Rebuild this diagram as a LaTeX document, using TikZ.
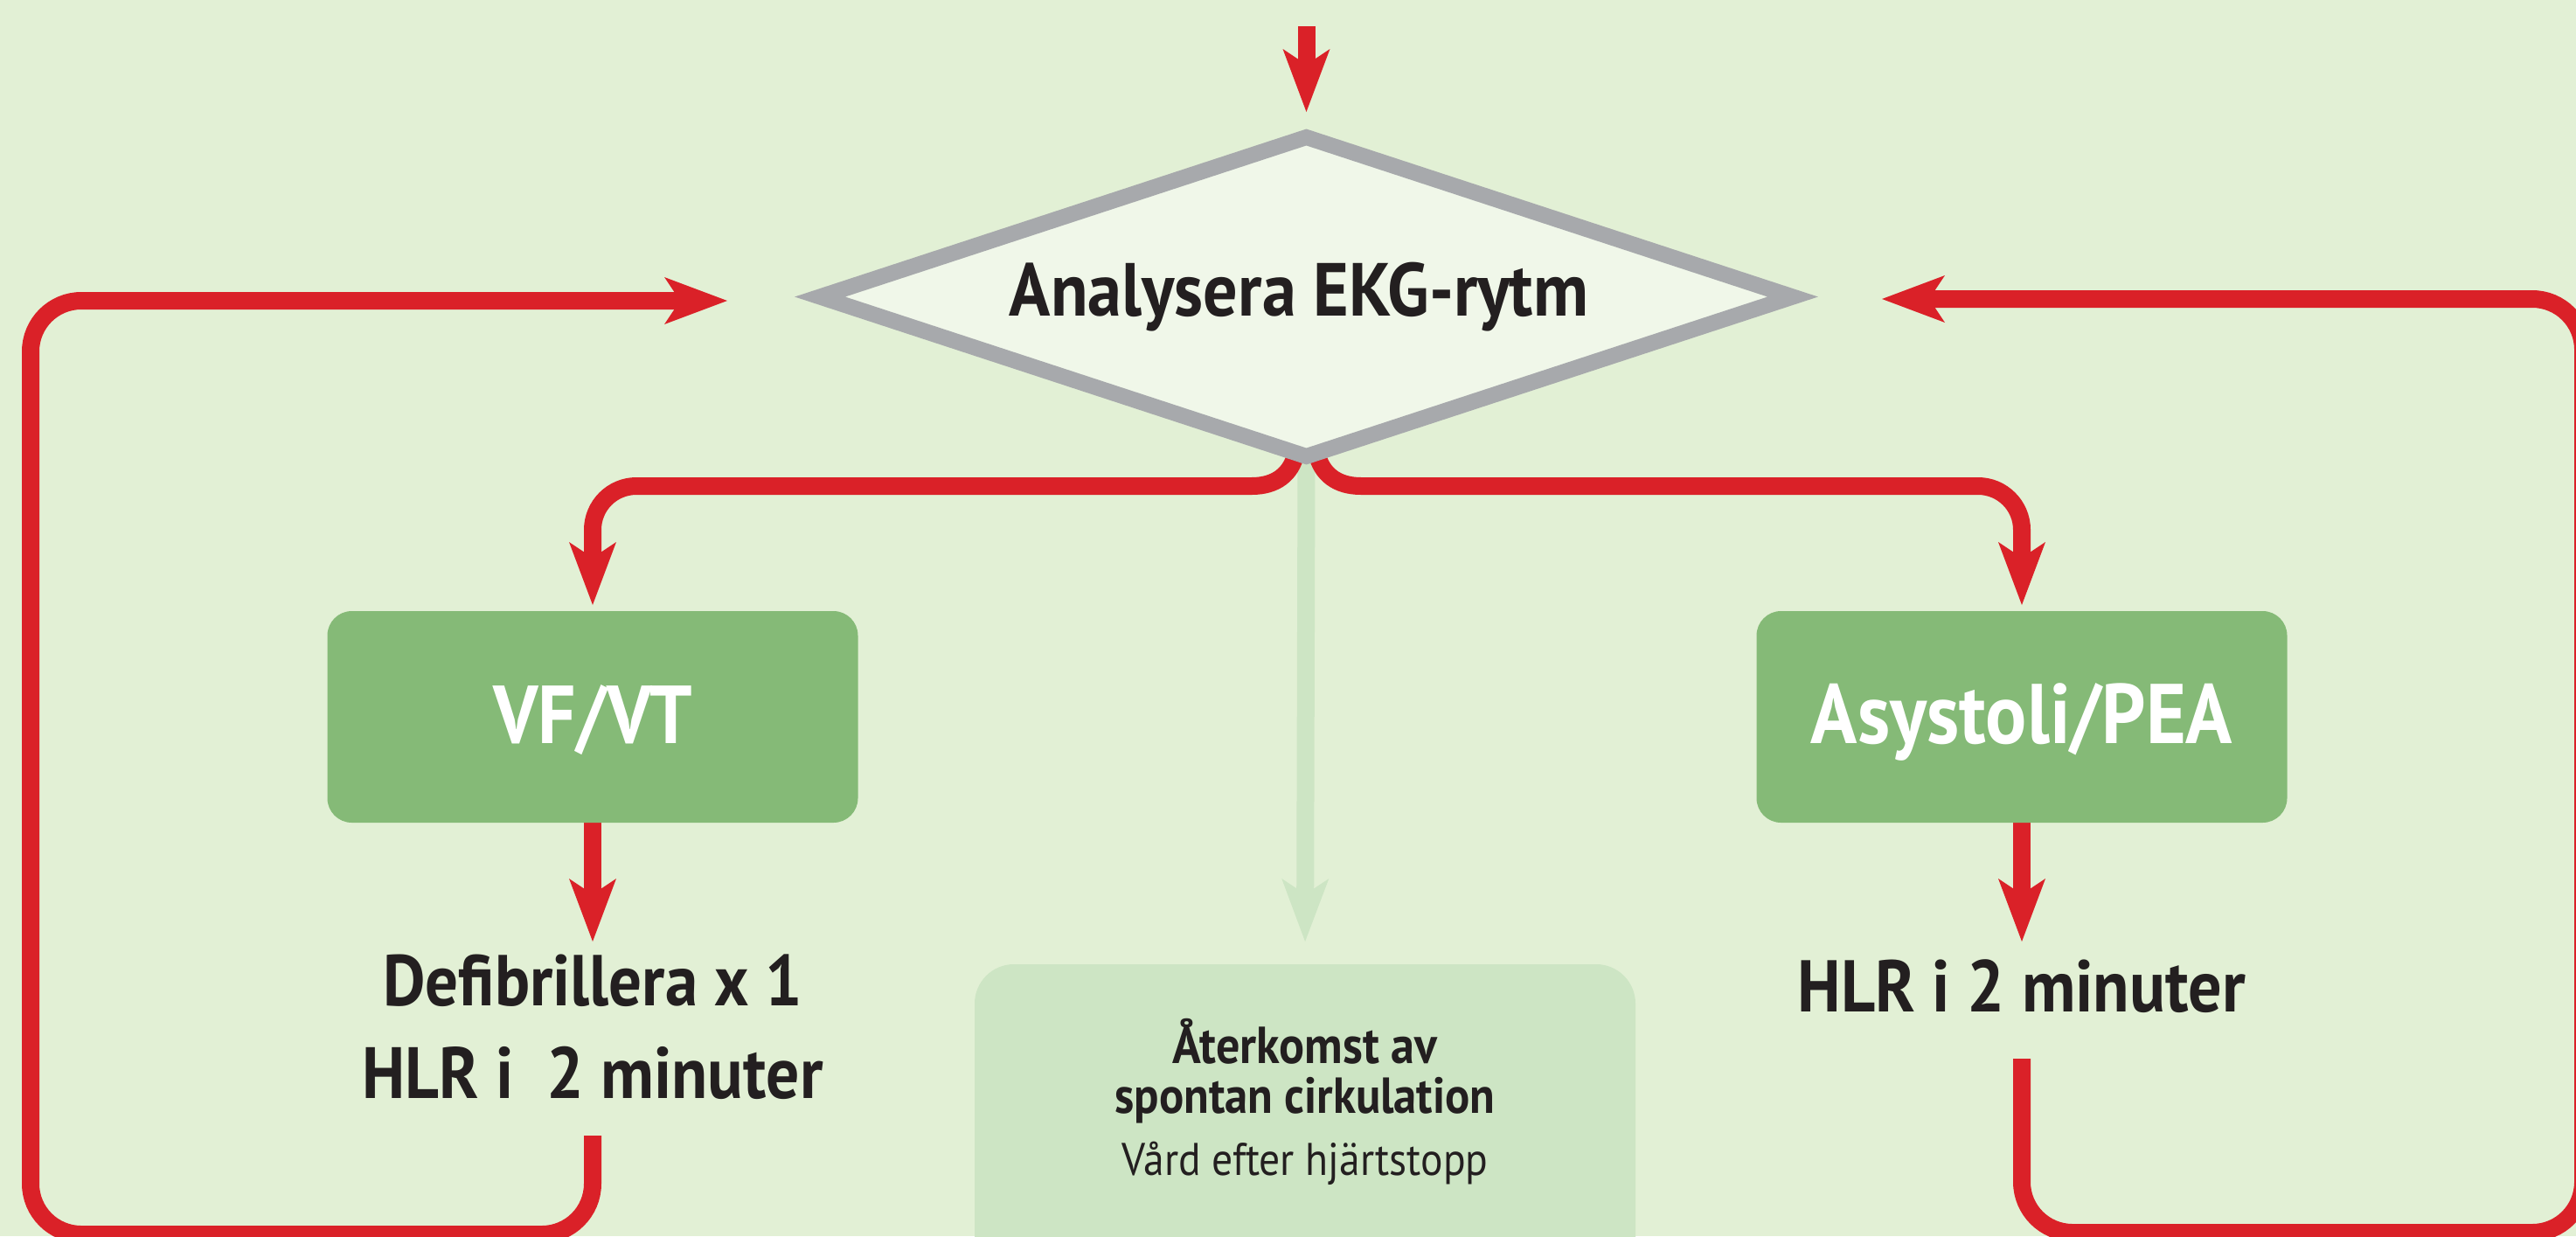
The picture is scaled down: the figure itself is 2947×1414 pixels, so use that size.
\documentclass[tikz,border=0pt]{standalone}
\usepackage{fontspec}
\setmainfont{PT Sans}
\usetikzlibrary{arrows.meta,shapes.geometric,calc}
\pgfdeclarelayer{bottom}
\pgfdeclarelayer{background}
\pgfsetlayers{bottom,background,main}
\definecolor{bgc}{HTML}{E2F0D5}
\definecolor{redc}{HTML}{DA2128}
\definecolor{grayc}{HTML}{A7A9AC}
\definecolor{dfill}{HTML}{F0F7E9}
\definecolor{greenbox}{HTML}{85BA77}
\definecolor{palegreen}{HTML}{CDE5C4}
\definecolor{txt}{HTML}{231F20}
\newcommand\fitw[2]{\scalebox{1}[1.1]{\resizebox{#1}{!}{#2}}}
\begin{document}
\begin{tikzpicture}[x=1pt,y=-1pt,
  redline/.style={draw=redc,line width=20pt},
  fadedline/.style={draw=palegreen,line width=20pt},
  tip/.style={-{Stealth[length=72pt,width=54pt,inset=18pt,line width=0pt]}},
  decision/.style={diamond,aspect=3.05,minimum width=1113pt,minimum height=365pt,
    inner sep=0pt,outer sep=0pt,draw=grayc,line width=18pt,fill=dfill,text=txt,font=\bfseries},
  rbox/.style={rectangle,rounded corners=28pt,fill=greenbox,minimum width=607pt,
    minimum height=242pt,inner sep=0pt,outer sep=0pt,text=white,font=\bfseries,
    text height=61pt,text depth=0pt},
  roscbox/.style={rectangle,rounded corners=45pt,fill=palegreen,minimum width=756pt,
    minimum height=357pt,inner sep=0pt,outer sep=0pt},
  lbl/.style={inner sep=0pt,outer sep=0pt,text=txt}
]
\begin{pgfonlayer}{bottom}
  \fill[bgc] (0,0) rectangle (2947,1414);
\end{pgfonlayer}
\useasboundingbox (0,0) rectangle (2947,1414);

% nodes
\node[decision] (d) at (1494.5,339.5) {\fitw{662pt}{Analysera EKG-rytm}\hspace*{17pt}};
\node[rbox] (vf) at (678,820) {\fitw{227pt}{VF/VT}};
\node[rbox] (asy) at (2313,820) {\fitw{482pt}{Asystoli/PEA}};
\node[roscbox] (rosc) at (1493,1281.5) {};
\node[lbl,align=center,font=\bfseries\fontsize{74pt}{106pt}\selectfont] (defib) at (678,1175)
  {\fitw{480pt}{Defibrillera x 1}\\\fitw{527pt}{HLR i~~2 minuter}};
\node[lbl,anchor=base,font=\bfseries] (hlr) at (2313,1157) {\fitw{512pt}{HLR i 2 minuter}};
\node[lbl,align=center,font=\fontsize{40pt}{57pt}\selectfont] (rosct) at (1493,1260)
  {\fitw{303pt}{\bfseries Återkomst av}\\\fitw{435pt}{\bfseries spontan cirkulation}\\[14pt]\fitw{419pt}{Vård efter hjärtstopp}};

% coordinates for free ends
\coordinate (top) at (1494.5,30);
\coordinate (vfend) at (678,1077);
\coordinate (asyend) at (2313,1077);
\coordinate (lstart) at (678,1299);
\coordinate (lend) at (832,344);
\coordinate (rstart) at (2313,1211);
\coordinate (rend) at (2153,342);

\begin{pgfonlayer}{background}
  \draw[fadedline,tip,shorten >=26pt] (d.south) -- (rosc.north);
  \draw[redline,tip,shorten >=29pt] (top) -- (d.north);
  \draw[redline,tip,shorten >=7pt] ($(d.south)+(-12,-3)$) .. controls (1477,542) and (1460,556) .. (1432,556)
     -- (728,556) .. controls (700.4,556) and (678,578.4) .. (678,606) -- (vf.north);
  \draw[redline,tip,shorten >=7pt] ($(d.south)+(12,-3)$) .. controls (1512,542) and (1529,556) .. (1557,556)
     -- (2263,556) .. controls (2290.6,556) and (2313,578.4) .. (2313,606) -- (asy.north);
  \draw[redline,tip] (vf.south) -- (vfend);
  \draw[redline,tip] (asy.south) -- (asyend);
  \draw[redline,tip,rounded corners=58pt] (lstart) -- (678,1412) -- (35,1412) -- (35,344) -- (lend);
  \draw[redline,tip,rounded corners=58pt] (rstart) -- (2313,1410) -- (2955,1410) -- (2955,342) -- (rend);
\end{pgfonlayer}
\end{tikzpicture}
\end{document}
